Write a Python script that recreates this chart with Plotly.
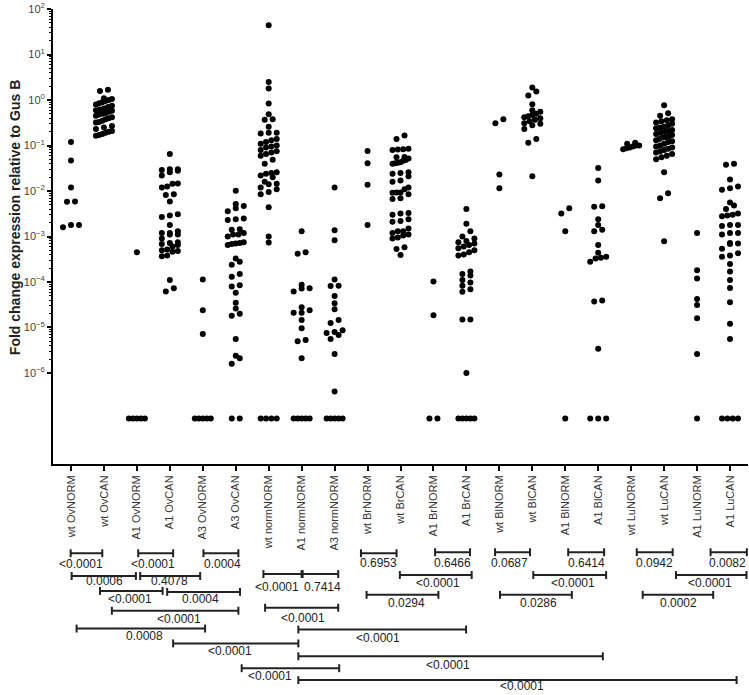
import numpy as np
import plotly.graph_objects as go

# ---- data -----------------------------------------------------------------
CATEGORIES = [
    "wt OvNORM", "wt OvCAN", "A1 OvNORM", "A1 OvCAN", "A3 OvNORM", "A3 OvCAN",
    "wt normNORM", "A1 normNORM", "A3 normNORM",
    "wt BrNORM", "wt BrCAN", "A1 BrNORM", "A1 BrCAN",
    "wt BlNORM", "wt BlCAN", "A1 BlNORM", "A1 BlCAN",
    "wt LuNORM", "wt LuCAN", "A1 LuNORM", "A1 LuCAN",
]

wt_ov_norm = [0.12, 0.047, 0.012, 0.0059, 0.0058, 0.0018, 0.0016, 0.0018]
wt_ov_can = [1.69, 1.58, 1.1, 1.05, 1.0, 0.95, 0.9, 0.85, 0.8, 0.75, 0.7, 0.65,
             0.62, 0.6, 0.58, 0.55, 0.52, 0.5, 0.48, 0.45, 0.42, 0.4, 0.38,
             0.35, 0.33, 0.32, 0.27, 0.25, 0.23, 0.21, 0.2, 0.19, 0.18, 0.17,
             0.165]
a1_ov_norm = [4.5e-4, 0, 0, 0, 0, 0]
a1_ov_can = [0.065, 0.030, 0.030, 0.029, 0.028, 0.026, 0.022, 0.0147, 0.0145,
             0.0126, 0.012, 0.0085, 0.0082, 0.0059, 0.0031, 0.0029, 0.0027,
             0.0018, 0.0013, 0.0012, 0.0012, 0.0011, 0.0011, 9e-4, 7.5e-4,
             7.2e-4, 6.8e-4, 6.5e-4, 6e-4, 5.2e-4, 5e-4, 4.8e-4, 4.6e-4,
             3.8e-4, 3.7e-4, 1.1e-4, 7.3e-5, 6.2e-5]
a3_ov_norm = [1.14e-4, 2.4e-5, 7.2e-6, 0, 0, 0, 0, 0]
a3_ov_can = [0.0102, 0.0052, 0.0047, 0.0042, 0.0036, 0.0025, 0.0024, 0.0023,
             0.00145, 0.0014, 0.0012, 0.0011, 0.0011, 0.001, 7.5e-4, 7.2e-4,
             7e-4, 6.8e-4, 6.5e-4, 3.3e-4, 2.8e-4, 2.4e-4, 1.5e-4, 1.3e-4,
             8.5e-5, 8e-5, 5.8e-5, 3.5e-5, 2.6e-5, 2e-5, 1.8e-5, 5.6e-6,
             2.4e-6, 2.1e-6, 1.6e-6, 0, 0]
wt_norm_norm = [44, 2.5, 1.8, 0.84, 0.49, 0.38, 0.37, 0.26, 0.19, 0.19, 0.185,
                0.14, 0.13, 0.12, 0.11, 0.1, 0.095, 0.09, 0.08, 0.075, 0.07,
                0.065, 0.06, 0.049, 0.04, 0.026, 0.025, 0.024, 0.022, 0.02,
                0.016, 0.0145, 0.014, 0.012, 0.011, 0.0095, 0.0085, 0.0044,
                1e-3, 7.4e-4, 0, 0, 0, 0]
a1_norm_norm = [1.3e-3, 4.5e-4, 4.2e-4, 8.7e-5, 7.3e-5, 7.2e-5, 6.2e-5,
                2.8e-5, 2.4e-5, 2.1e-5, 2.1e-5, 1.45e-5, 9.6e-6, 5.3e-6, 5e-6,
                2.1e-6, 0, 0, 0, 0, 0]
a3_norm_norm = [0.012, 1.38e-3, 8.3e-4, 1.14e-4, 8.3e-5, 8.2e-5, 4.9e-5,
                3.4e-5, 2.5e-5, 1.45e-5, 1.26e-5, 8.7e-6, 7.9e-6, 7.6e-6,
                6.8e-6, 5.6e-6, 2.6e-6, 3.9e-7, 0, 0, 0, 0, 0]
wt_br_norm = [0.076, 0.041, 0.0138, 0.0018]
wt_br_can = [0.166, 0.14, 0.085, 0.083, 0.082, 0.08, 0.056, 0.055, 0.052,
             0.048, 0.046, 0.043, 0.042, 0.041, 0.04, 0.026, 0.025, 0.024,
             0.021, 0.017, 0.016, 0.012, 0.011, 0.0093, 0.0093, 0.0092, 0.0085,
             0.0069, 0.0067, 0.0033, 0.0032, 0.003, 0.0024, 0.0022, 0.0021,
             0.0015, 0.0013, 0.0013, 0.0012, 0.0011, 0.00105, 9.5e-4, 9e-4,
             5.8e-4, 5.3e-4, 3.9e-4]
a1_br_norm = [1.02e-4, 1.86e-5, 0, 0]
a1_br_can = [0.004, 0.0019, 0.0013, 1e-3, 9e-4, 8e-4, 7.5e-4, 7e-4, 6.5e-4,
             6e-4, 5.5e-4, 5e-4, 4.5e-4, 4e-4, 3.8e-4, 1.7e-4, 1.5e-4,
             1.38e-4, 1.1e-4, 9.7e-5, 8.3e-5, 6.9e-5, 6.1e-5, 1.5e-5, 1.5e-5,
             1e-6, 0, 0, 0, 0, 0]
wt_bl_norm = [0.38, 0.31, 0.023, 0.0115]
wt_bl_can = [1.9, 1.55, 1.26, 0.81, 0.6, 0.55, 0.5, 0.47, 0.44, 0.42, 0.4,
             0.37, 0.34, 0.31, 0.3, 0.28, 0.23, 0.14, 0.115, 0.021]
a1_bl_norm = [0.0042, 0.0032, 0.0013, 0]
a1_bl_can = [0.032, 0.017, 0.0046, 0.0045, 0.0024, 0.0018, 0.0014, 0.0013,
             6.5e-4, 4.4e-4, 3.6e-4, 3.4e-4, 3.3e-4, 2.8e-4, 3.9e-5, 3.7e-5,
             3.4e-6, 0, 0, 0]
wt_lu_norm = [0.115, 0.11, 0.1, 0.1, 0.095, 0.09, 0.087, 0.083]
wt_lu_can = [0.77, 0.51, 0.45, 0.38, 0.36, 0.34, 0.32, 0.3, 0.28, 0.26, 0.25,
             0.24, 0.22, 0.21, 0.2, 0.19, 0.18, 0.17, 0.16, 0.155, 0.15, 0.14,
             0.13, 0.125, 0.12, 0.11, 0.1, 0.095, 0.09, 0.085, 0.08, 0.075,
             0.07, 0.065, 0.06, 0.055, 0.05, 0.026, 0.0089, 0.0069, 7.9e-4]
a1_lu_norm = [1.2e-3, 1.8e-4, 1.2e-4, 4.2e-5, 3.1e-5, 1.6e-5, 2.6e-6, 0]
a1_lu_can = [0.04, 0.038, 0.018, 0.0126, 0.0115, 0.0107, 0.0056, 0.0048,
             0.004, 0.0032, 0.003, 0.0029, 0.0028, 0.0018, 0.0018, 0.0017,
             0.0012, 0.0012, 0.0011, 7.2e-4, 7e-4, 6.8e-4, 5.4e-4, 4.3e-4,
             3.8e-4, 3.6e-4, 2.5e-4, 1.7e-4, 1.1e-4, 7.4e-5, 3.6e-5, 1.2e-5,
             5.6e-6, 0, 0, 0, 0]

GROUPS = [wt_ov_norm, wt_ov_can, a1_ov_norm, a1_ov_can, a3_ov_norm, a3_ov_can,
          wt_norm_norm, a1_norm_norm, a3_norm_norm,
          wt_br_norm, wt_br_can, a1_br_norm, a1_br_can,
          wt_bl_norm, wt_bl_can, a1_bl_norm, a1_bl_can,
          wt_lu_norm, wt_lu_can, a1_lu_norm, a1_lu_can]

ZERO_LEVEL = 1e-7  # undetected samples are drawn on this line

# comparison brackets, x in category units, y in px from the top:
# (x0, x1, bracket y, p-value, label x, label y)
BRACKETS = [
    (-0.01, 0.95, 554, "<0.0001", 0.30, 565),
    (2.04, 3.10, 554, "<0.0001", 2.49, 565),
    (4.02, 5.08, 554, "0.0004", 4.60, 565),
    (8.80, 9.88, 554, "0.6953", 9.32, 564),
    (11.05, 12.11, 553, "0.6466", 11.58, 564),
    (12.87, 13.93, 553, "0.0687", 13.32, 564),
    (15.09, 16.18, 553, "0.6414", 15.63, 564),
    (17.17, 18.26, 553, "0.0942", 17.72, 564),
    (19.41, 20.51, 553, "0.0082", 19.92, 564),
    (0.02, 1.97, 577, "0.0006", 1.03, 582),
    (2.10, 3.92, 577, "0.4078", 3.00, 582),
    (5.84, 7.00, 575, "<0.0001", 6.24, 588),
    (7.03, 8.11, 575, "0.7414", 7.64, 588),
    (9.98, 12.16, 576, "<0.0001", 11.14, 584),
    (14.03, 16.24, 576, "<0.0001", 15.22, 584),
    (18.36, 20.50, 576, "<0.0001", 19.39, 584),
    (0.88, 2.78, 592, "<0.0001", 1.79, 600),
    (2.92, 5.13, 593, "0.0004", 3.94, 600),
    (8.97, 11.15, 596, "0.0294", 10.17, 604),
    (13.02, 15.20, 596, "0.0286", 14.20, 604),
    (17.35, 19.49, 596, "0.0002", 18.45, 604),
    (5.89, 8.11, 609, "<0.0001", 7.03, 619),
    (1.24, 5.08, 612, "<0.0001", 3.28, 620),
    (0.17, 4.07, 630, "0.0008", 2.24, 638),
    (6.90, 11.99, 631, "<0.0001", 9.32, 640),
    (3.10, 6.90, 645, "<0.0001", 4.83, 653),
    (6.90, 16.14, 658, "<0.0001", 11.44, 667),
    (5.18, 8.14, 670, "<0.0001", 6.04, 678),
    (6.90, 20.20, 682, "<0.0001", 13.68, 688),
]

# ---- layout constants -----------------------------------------------------
W, H = 749, 695
M_L, M_R, M_T, M_B = 53, 1, 5, 231
PLOT_W = W - M_L - M_R
PLOT_H = H - M_T - M_B
XMIN, XMAX = -0.546, 20.546
YMIN, YMAX = -8.002, 2.002
PX_PER_CAT = PLOT_W / (XMAX - XMIN)
PX_PER_DEC = PLOT_H / (YMAX - YMIN)
DOT = 6


def swarm_offsets(values, row_h=5.5, max_gap=8.0, max_span=16.0):
    """Prism-like scatter: bin nearby points into rows and spread each row."""
    ypx = np.log10(values) * PX_PER_DEC
    order = np.argsort(ypx)
    offs = np.zeros(len(values))
    i = 0
    while i < len(order):
        j = i
        while j + 1 < len(order) and ypx[order[j + 1]] - ypx[order[i]] <= row_h:
            j += 1
        row = order[i:j + 1]
        n = len(row)
        gap = max_gap if n < 3 else min(max_gap, max_span / (n - 1))
        for k, idx in enumerate(row):
            offs[idx] = (k - (n - 1) / 2) * gap
        i = j + 1
    return offs / PX_PER_CAT


xs, ys = [], []
for ci, vals in enumerate(GROUPS):
    plot_vals = np.array([v if v > 0 else ZERO_LEVEL for v in vals], dtype=float)
    offs = swarm_offsets(plot_vals)
    xs.extend(ci + offs)
    ys.extend(plot_vals)

fig = go.Figure(
    go.Scatter(
        x=xs, y=ys, mode="markers",
        marker=dict(size=DOT, color="black", line=dict(width=0)),
        cliponaxis=False, hoverinfo="skip", showlegend=False,
    )
)

major = [10.0 ** k for k in range(-6, 3)]
major_text = ["10<sup>" + str(k).replace("-", "\u2212") + "</sup>" for k in range(-6, 3)]
minor = [m * 10.0 ** k for k in range(-6, 2) for m in range(2, 10)]


def px_to_paper_y(py):
    return (H - M_B - py) / PLOT_H


def cat_to_paper_x(c):
    return (c - XMIN) / (XMAX - XMIN)


shapes, annotations = [], []
cap = 4 / PLOT_H
line_style = dict(color="#222222", width=2)
for x0, x1, by, label, lx, ly in BRACKETS:
    px0, px1, py = cat_to_paper_x(x0), cat_to_paper_x(x1), px_to_paper_y(by)
    shapes.append(dict(type="line", xref="paper", yref="paper", x0=px0, x1=px1,
                       y0=py, y1=py, line=line_style))
    for px in (px0, px1):
        shapes.append(dict(type="line", xref="paper", yref="paper", x0=px, x1=px,
                           y0=py - cap, y1=py + cap, line=line_style))
    annotations.append(dict(text=label, xref="paper", yref="paper",
                            x=cat_to_paper_x(lx), y=px_to_paper_y(ly),
                            xanchor="center", yanchor="middle", showarrow=False,
                            font=dict(size=12, color="#222222")))

annotations.append(dict(
    text="<b>Fold change expression relative to Gus B</b>",
    xref="paper", yref="paper", x=(15 - M_L) / PLOT_W, y=px_to_paper_y(216),
    textangle=-90, showarrow=False, xanchor="center", yanchor="middle",
    font=dict(size=14, color="#222222"),
))

fig.update_layout(
    width=W, height=H,
    margin=dict(l=M_L, r=M_R, t=M_T, b=M_B, pad=0),
    paper_bgcolor="white", plot_bgcolor="white",
    font=dict(family="Liberation Sans, Arial, sans-serif", color="#333333"),
    shapes=shapes, annotations=annotations,
    xaxis=dict(
        range=[XMIN, XMAX], tickmode="array", tickvals=list(range(len(CATEGORIES))),
        ticktext=CATEGORIES, tickangle=-90, tickfont=dict(size=11, color="#333333"),
        showline=True, linecolor="black", linewidth=2, ticks="outside",
        ticklen=5, tickwidth=1.5, tickcolor="black", showgrid=False, zeroline=False,
    ),
    yaxis=dict(
        type="log", range=[YMIN, YMAX], tickmode="array", tickvals=major,
        ticktext=major_text, tickfont=dict(size=11, color="#444444"),
        ticklabeloverflow="allow",
        showline=True, linecolor="black", linewidth=2, ticks="outside",
        ticklen=4, tickwidth=1.5, tickcolor="black", showgrid=False, zeroline=False,
        minor=dict(tickmode="array", tickvals=minor, ticks="outside", ticklen=2,
                   tickwidth=1, tickcolor="black", showgrid=False),
    ),
)

# the page body has a default 8px margin; drop it so the figure fills the window
fig.write_html("out.html", config={"displayModeBar": False},
               post_script="document.body.style.margin='0';")
